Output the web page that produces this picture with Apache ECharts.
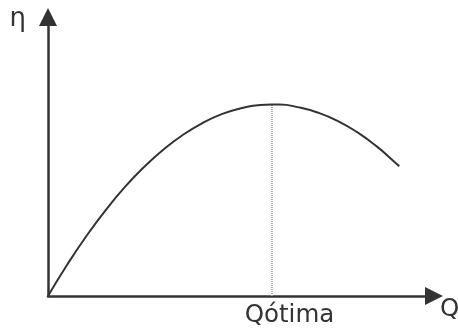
<!DOCTYPE html>
<html>
<head>
<meta charset="utf-8">
<script src="https://cdn.jsdelivr.net/npm/echarts@6/dist/echarts.min.js"></script>
<style>
  html, body { margin: 0; padding: 0; background: #fff; }
  #chart { width: 458px; height: 331px; }
</style>
</head>
<body>
<div id="chart"></div>
<script>
// Efficiency curve η(Q) of a pump (arbitrary units, 0–100 on each axis)
const flowQ = [0, 5, 10, 15, 20, 25, 30, 35, 40, 45, 50, 55, 58, 60, 65, 70, 75, 80, 85, 90, 91];
const efficiency = [0, 11.3, 21.6, 30.9, 39.2, 46.4, 52.6, 57.8, 62.0, 65.2, 67.3, 68.5, 68.6, 68.6, 67.6, 65.7, 62.8, 58.8, 53.8, 47.8, 46.5];

// Best efficiency point
const qOptimal = 58;
const etaMax = 68.6;

const axisLabels = { y: 'η', x: 'Q', optimum: 'Qótima' };

const curveData = flowQ.map((q, i) => [q, efficiency[i]]);
const optimumLine = [[qOptimal, 0], [qOptimal, etaMax]];

const chart = echarts.init(document.getElementById('chart'), null, { renderer: 'canvas' });

const axisCommon = {
  type: 'value',
  min: 0,
  max: 100,
  axisLine: {
    show: true,
    onZero: false,
    symbol: ['none', 'triangle'],
    symbolSize: [18, 18],
    lineStyle: { color: '#333', width: 2.5 }
  },
  axisTick: { show: false },
  axisLabel: { show: false },
  splitLine: { show: false }
};

chart.setOption({
  animation: false,
  backgroundColor: '#fff',
  grid: { left: 48, right: 24, top: 17, bottom: 35 },
  xAxis: axisCommon,
  yAxis: axisCommon,
  series: [
    {
      type: 'line',
      data: optimumLine,
      symbol: 'none',
      lineStyle: { color: '#aaa', width: 2, type: [1, 1] },
      z: 1
    },
    {
      type: 'line',
      data: curveData,
      smooth: true,
      symbol: 'none',
      lineStyle: { color: '#333', width: 2 },
      z: 2
    }
  ],
  graphic: [
    {
      type: 'text', x: 9.5, y: 19,
      style: { text: axisLabels.y, font: '26px "DejaVu Sans"', fill: '#333', verticalAlign: 'middle' }
    },
    {
      type: 'text', x: 244.7, y: 315.2,
      style: { text: axisLabels.optimum, font: '24.5px "DejaVu Sans"', fill: '#333', verticalAlign: 'middle' }
    },
    {
      type: 'text', x: 440, y: 309.2,
      style: { text: axisLabels.x, font: '24.5px "DejaVu Sans"', fill: '#333', verticalAlign: 'middle' }
    }
  ]
});
</script>
</body>
</html>
